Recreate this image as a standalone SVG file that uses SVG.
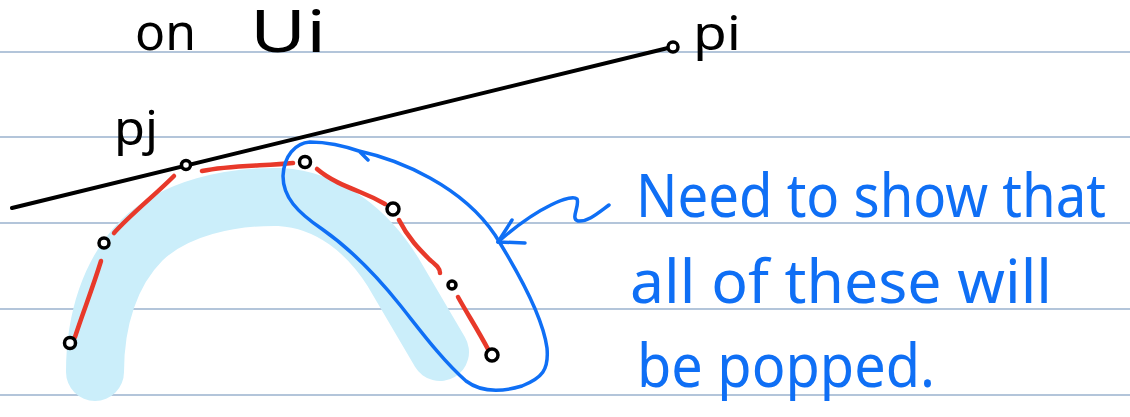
<svg xmlns="http://www.w3.org/2000/svg" width="1130" height="417" viewBox="0 0 1130 417">
<style>
.rule{stroke:#b3c5da;stroke-width:2}
.ink{fill:none;stroke:#000;stroke-width:4;stroke-linecap:round;stroke-linejoin:round}
.red{fill:none;stroke:#e8392a;stroke-width:4.5;stroke-linecap:round;stroke-linejoin:round}
.blue{fill:none;stroke:#0f6ff5;stroke-width:3.5;stroke-linecap:round;stroke-linejoin:round}
.pt{fill:#fff;stroke:#000;stroke-width:3.5}
.bt{font-family:"Noto Sans","Liberation Sans",sans-serif;fill:#0f6ff5;font-size:60px}
.kt{font-family:"Noto Sans","Liberation Sans",sans-serif;fill:#000}
</style>
<rect width="1130" height="417" fill="#fff"/>
<g id="rules">
<line class="rule" x1="0" y1="52" x2="1130" y2="52"/>
<line class="rule" x1="0" y1="137" x2="1130" y2="137"/>
<line class="rule" x1="0" y1="223" x2="1130" y2="223"/>
<line class="rule" x1="0" y1="309" x2="1130" y2="309"/>
<line class="rule" x1="0" y1="395" x2="1130" y2="395"/>
</g>
<g id="highlight">
<path d="M 95 372 C 95 320, 110 272, 142 240 C 175 208, 230 196, 280 197 C 330 200, 368 232, 393 272 C 413 306, 428 332, 440 352" fill="none" stroke="#cbeefa" stroke-width="58" stroke-linecap="round" stroke-linejoin="round"/>
</g>
<g id="connectors">
<line class="ink" x1="12" y1="208" x2="668" y2="48"/>
<path class="red" d="M 174 176 C 155 195, 130 215, 114 233"/>
<path class="red" d="M 101 261 C 92 290, 82 315, 75 337"/>
<path class="red" d="M 202 171 C 230 165, 265 166, 293 163"/>
<path class="red" d="M 317 169 C 330 180, 345 186, 360 192 C 370 196, 378 200, 385 204"/>
<path class="red" d="M 399 220 C 408 238, 420 250, 430 260 C 436 265, 440 268, 440 273"/>
<path class="red" d="M 458 297 C 468 315, 478 330, 489 351"/>
<path class="blue" d="M 368 160 L 359 151 C 400 160, 462 186, 495 235 C 520 275, 543 318, 547 348 C 549 370, 542 378, 522 386 C 502 392, 482 393, 466 381 C 442 360, 420 330, 400 305 C 380 280, 352 250, 322 229 C 297 212, 283 197, 283 176 C 284 156, 295 143, 310 142 C 330 142, 345 146, 362 152"/>
<path class="blue" d="M 609 205 C 598 213, 588 222, 578 221 C 570 219, 580 206, 577 199 C 572 194, 540 205, 498 242"/>
<path class="blue" d="M 512 220 L 498 242 L 525 243"/>
</g>
<g id="p-j-point"><circle class="pt" cx="186" cy="165" r="4.5" stroke-width="4.5"/></g>
<g id="p-i-point"><circle class="pt" cx="673" cy="47" r="5"/></g>
<g id="pt1"><circle class="pt" cx="305" cy="162" r="5.5"/></g>
<g id="pt2"><circle class="pt" cx="393" cy="209" r="6"/></g>
<g id="pt3"><circle class="pt" cx="452" cy="285" r="4"/></g>
<g id="pt4"><circle class="pt" cx="492" cy="355" r="6"/></g>
<g id="pt5"><circle class="pt" cx="104" cy="243" r="5"/></g>
<g id="pt6"><circle class="pt" cx="70" cy="343" r="5.5"/></g>
<g id="labels">
<text class="kt" x="135" y="50" font-size="50" textLength="61" lengthAdjust="spacingAndGlyphs">on</text>
<text class="kt" x="250" y="52" font-size="58" textLength="76" lengthAdjust="spacingAndGlyphs">Ui</text>
<text class="kt" x="114" y="145" font-size="48" textLength="44" lengthAdjust="spacingAndGlyphs">pj</text>
<text class="kt" x="693" y="50" font-size="48" textLength="48" lengthAdjust="spacingAndGlyphs">pi</text>
</g>
<g id="note">
<text class="bt" x="636" y="217" textLength="470" lengthAdjust="spacingAndGlyphs">Need to show that</text>
<text class="bt" x="630" y="303" textLength="422" lengthAdjust="spacingAndGlyphs">all of these will</text>
<text class="bt" x="637" y="387" textLength="298" lengthAdjust="spacingAndGlyphs">be popped.</text>
</g>
</svg>
